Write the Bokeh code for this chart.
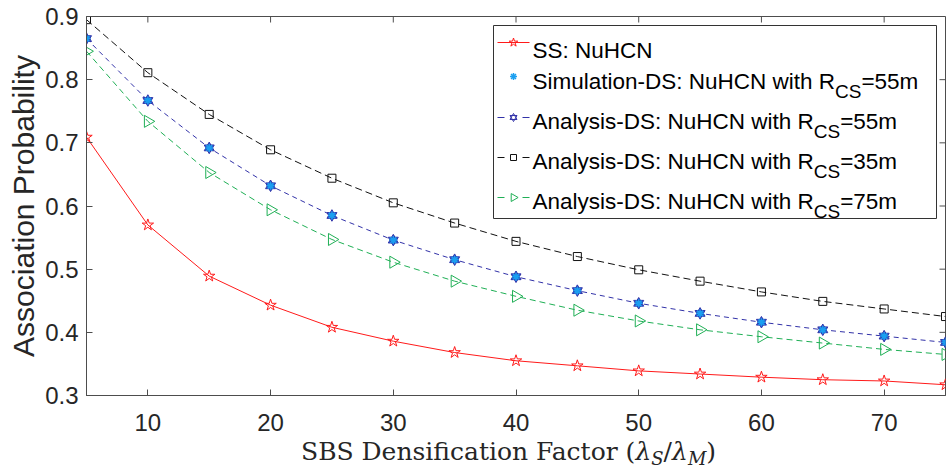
import math
from bokeh.plotting import figure
from bokeh.models import Range1d, FixedTicker, Label, Div, Title
from bokeh.layouts import column
from bokeh.embed import file_html
from bokeh.resources import INLINE

# ---------------- data ----------------
x = [5, 10, 15, 20, 25, 30, 35, 40, 45, 50, 55, 60, 65, 70, 75]
ss_nuhcn = [0.709, 0.570, 0.489, 0.443, 0.408, 0.386, 0.368, 0.355, 0.347, 0.339, 0.334, 0.329, 0.325, 0.323, 0.317]
sim_ds55 = [0.865, 0.767, 0.692, 0.632, 0.585, 0.546, 0.515, 0.488, 0.466, 0.446, 0.430, 0.416, 0.404, 0.394, 0.384]
ana_ds55 = [0.865, 0.767, 0.692, 0.632, 0.585, 0.546, 0.515, 0.488, 0.466, 0.446, 0.430, 0.416, 0.404, 0.394, 0.384]
ana_ds35 = [0.895, 0.811, 0.745, 0.689, 0.644, 0.605, 0.573, 0.544, 0.520, 0.499, 0.481, 0.464, 0.449, 0.437, 0.425]
ana_ds75 = [0.845, 0.734, 0.653, 0.594, 0.547, 0.511, 0.481, 0.457, 0.435, 0.418, 0.404, 0.393, 0.383, 0.373, 0.365]

x_ticks = [10, 20, 30, 40, 50, 60, 70]
y_ticks = [0.3, 0.4, 0.5, 0.6, 0.7, 0.8, 0.9]
y_tick_labels = ["0.3", "0.4", "0.5", "0.6", "0.7", "0.8", "0.9"]

legend_main = ["SS: NuHCN", "Simulation-DS: NuHCN with R", "Analysis-DS: NuHCN with R",
               "Analysis-DS: NuHCN with R", "Analysis-DS: NuHCN with R"]
legend_sub = ["", "CS", "CS", "CS", "CS"]
legend_tail = ["", "=55m", "=55m", "=35m", "=75m"]

y_label = "Association Probability"
SUB = '<span style="font-size:18px;font-style:italic;position:relative;top:5px">{}</span>'
x_label_html = ("SBS Densification Factor (<i>\u03bb</i>" + SUB.format("S") + "/"
                "<i>\u03bb</i>" + SUB.format("M") + ")")

# ---------------- layout ----------------
W, H = 946, 471
PH = 434                      # figure height; the x label sits in a Div below
FL, FR, FT, FB = 86, 945, 16, 395
X0, X1, Y0, Y1 = 5, 75, 0.3, 0.9

RED = "#FF1A1A"
CYAN = "#1A9FF0"
BLUE = "#3232A8"
BLACK = "#111111"
GREEN = "#1FAF55"
AX = "#4D4D4D"
TXT = "#262626"
SANS = "Liberation Sans"

p = figure(width=W, height=PH, output_backend="svg", toolbar_location=None,
           x_range=Range1d(X0, X1), y_range=Range1d(Y0, Y1),
           min_border_left=FL, min_border_right=W - FR, min_border_top=FT,
           min_border_bottom=PH - FB)
p.background_fill_color = "white"
p.border_fill_color = "white"
p.outline_line_color = AX
p.xgrid.visible = False
p.ygrid.visible = False

for ax in (p.xaxis[0], p.yaxis[0]):
    ax.major_tick_in = 6
    ax.major_tick_out = 0
    ax.minor_tick_line_color = None
    ax.axis_line_color = AX
    ax.major_tick_line_color = AX
    ax.major_label_text_font = SANS
    ax.major_label_text_font_size = "24px"
    ax.major_label_text_color = TXT
p.xaxis.ticker = FixedTicker(ticks=x_ticks)
p.yaxis.ticker = FixedTicker(ticks=y_ticks)
p.yaxis.major_label_overrides = {t: l for t, l in zip(y_ticks, y_tick_labels)}
p.xaxis.major_label_standoff = 18
p.yaxis.major_label_standoff = 8

p.add_layout(Title(text=y_label, align="center", offset=26, text_font=SANS,
                   text_font_size="30px", text_font_style="normal", text_color=TXT,
                   standoff=6), "left")

# ---------------- helpers (pixel -> data, for decorations only) ----------------
def dx(px):
    return X0 + (px - FL) / (FR - FL) * (X1 - X0)

def dy(py):
    return Y0 + (FB - py) / (FB - FT) * (Y1 - Y0)

TICK = 6
p.segment(x0=x_ticks, y0=[Y1] * len(x_ticks), x1=x_ticks,
          y1=[Y1 - (dy(FT) - dy(FT + TICK))] * len(x_ticks), line_color=AX, line_width=1)
p.segment(x0=[X1] * len(y_ticks), y0=y_ticks, x1=[X1 - (dx(FL + TICK) - dx(FL))] * len(y_ticks),
          y1=y_ticks, line_color=AX, line_width=1)

# ---------------- data series ----------------
p.line(x, ss_nuhcn, line_color=RED, line_width=1)
p.scatter(x, ss_nuhcn, marker="star", size=12, fill_color=None, line_color=RED, line_width=1)

p.line(x, ana_ds35, line_color=BLACK, line_width=1, line_dash="7 4")
p.scatter(x, ana_ds35, marker="square", size=8, fill_color=None, line_color=BLACK, line_width=1)

p.line(x, ana_ds75, line_color=GREEN, line_width=1, line_dash="6 4")
p.scatter(x, ana_ds75, marker="triangle", size=12, angle=-math.pi / 2,
          fill_color=None, line_color=GREEN, line_width=1)

p.line(x, ana_ds55, line_color=BLUE, line_width=1, line_dash="5 4")
p.scatter(x, ana_ds55, marker="triangle", size=10, fill_color="#2A6BD6", line_color=BLUE, line_width=1)
p.scatter(x, ana_ds55, marker="inverted_triangle", size=10, fill_color="#2A6BD6", line_color=BLUE, line_width=1)
p.scatter(x, sim_ds55, marker="asterisk", size=8, line_color=CYAN, line_width=1.5)

ARIAL = {'A': 667, 'n': 556, 'a': 556, 'l': 222, 'y': 500, 's': 500, 'i': 222, '-': 333,
         'D': 722, 'S': 667, ':': 278, ' ': 278, 'N': 722, 'u': 556, 'H': 722, 'C': 722,
         'w': 722, 't': 278, 'h': 556, 'R': 722, 'm': 833, 'o': 556, '=': 584,
         '3': 556, '5': 556, '7': 556}

def tw(s, size):
    return sum(ARIAL.get(c, 556) for c in s) * size / 1000.0

def label(text, px, py, size, color="black"):
    p.add_layout(Label(x=px - FL, y=FB - py, x_units="screen", y_units="screen", text=text,
                       text_font=SANS, text_font_size=f"{size}px", text_color=color,
                       text_align="left", text_baseline="alphabetic"))

# ---------------- legend ----------------
p.quad(left=dx(493), right=dx(936), top=dy(25), bottom=dy(218),
       fill_color="white", line_color="#333333", line_width=1)

row_base = [50, 81, 121, 161, 201]
row_mark = [42, 76, 117, 157, 197]
LX0, LX1, LXM, TX = 497, 529, 513, 532
FS, SFS = 22.5, 19

p.line([dx(LX0), dx(LX1)], [dy(row_mark[0])] * 2, line_color=RED, line_width=1)
p.scatter([dx(LXM)], [dy(row_mark[0])], marker="star", size=9, fill_color=None, line_color=RED)
p.scatter([dx(LXM)], [dy(row_mark[1])], marker="asterisk", size=7, line_color=CYAN, line_width=1.5)
for r, col in ((2, BLUE), (3, BLACK), (4, GREEN)):
    yy = dy(row_mark[r])
    p.segment(x0=[dx(LX0), dx(LX1 - 7)], y0=[yy, yy], x1=[dx(LX0 + 7), dx(LX1)], y1=[yy, yy],
              line_color=col, line_width=1)
p.scatter([dx(LXM)], [dy(row_mark[2])], marker="triangle", size=7, fill_color=None, line_color=BLUE)
p.scatter([dx(LXM)], [dy(row_mark[2])], marker="inverted_triangle", size=7, fill_color=None, line_color=BLUE)
p.scatter([dx(LXM)], [dy(row_mark[3])], marker="square", size=6, fill_color=None, line_color=BLACK)
p.scatter([dx(LXM)], [dy(row_mark[4])], marker="triangle", size=8, angle=-math.pi / 2,
          fill_color=None, line_color=GREEN)

for i in range(5):
    label(legend_main[i], TX, row_base[i], FS)
    if legend_sub[i]:
        w1 = tw(legend_main[i], FS)
        label(legend_sub[i], TX + w1, row_base[i] + 10, SFS)
        w2 = tw(legend_sub[i], SFS)
        label(legend_tail[i], TX + w1 + w2, row_base[i], FS)

# ---------------- x label (HTML text, with real subscripts) ----------------
xlab = Div(text=x_label_html, width=W, height=H - PH, margin=(0, 0, 0, 0),
           styles={"font-family": "DejaVu Serif", "font-size": "25px", "line-height": "25px",
                   "color": TXT, "padding-top": "5px", "padding-left": "301px",
                   "white-space": "nowrap", "box-sizing": "border-box", "overflow": "visible"})

page = column(p, xlab, spacing=0, margin=(0, 0, 0, 0))
open("out.html", "w").write(file_html(page, INLINE))
